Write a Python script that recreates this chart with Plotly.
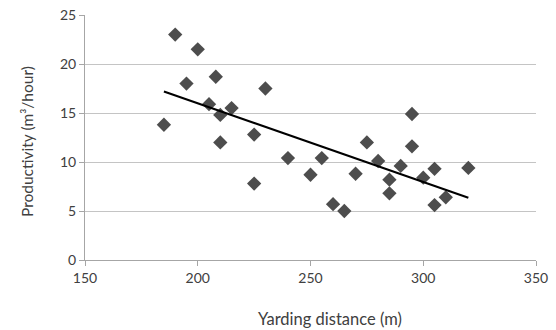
import numpy as np
import plotly.graph_objects as go

distance = [185, 190, 195, 200, 205, 208, 210, 210, 215, 225, 225, 230,
            240, 250, 255, 260, 265, 270, 275, 280, 285, 285, 290, 295,
            295, 300, 305, 305, 310, 320]
productivity = [13.8, 23.0, 18.0, 21.5, 15.9, 18.7, 14.8, 12.0, 15.5, 12.8, 7.8, 17.5,
                10.4, 8.7, 10.4, 5.7, 5.0, 8.8, 12.0, 10.1, 8.2, 6.8, 9.6, 14.9,
                11.6, 8.4, 9.3, 5.6, 6.4, 9.4]
x_title = "Yarding distance (m)"
y_title = "Productivity (m³/hour)"

x = np.array(distance, dtype=float)
y = np.array(productivity, dtype=float)
slope, intercept = np.polyfit(x, y, 1)
tx = [x.min(), x.max()]
ty = [slope * v + intercept for v in tx]

font = "Lato, 'Open Sans', sans-serif"
fig = go.Figure()
fig.add_trace(go.Scatter(x=distance, y=productivity, mode="markers",
                         marker=dict(symbol="diamond", size=11, color="#4d4d4d"),
                         showlegend=False))
fig.add_trace(go.Scatter(x=tx, y=ty, mode="lines",
                         line=dict(color="black", width=2), showlegend=False))

fig.update_layout(
    width=556, height=330,
    margin=dict(l=85, r=20, t=15, b=70, autoexpand=False),
    paper_bgcolor="white", plot_bgcolor="white",
    font=dict(family=font, size=14, color="#404040"),
    annotations=[
        dict(text=x_title, xref="paper", yref="paper", x=0.543, y=-0.241,
             xanchor="center", yanchor="middle", showarrow=False,
             font=dict(size=16.5, color="#404040")),
        dict(text=y_title, xref="paper", yref="paper", x=-0.1286, y=0.4816,
             xanchor="center", yanchor="middle", showarrow=False, textangle=-90,
             font=dict(size=15.5, color="#404040")),
    ],
)
fig.update_xaxes(range=[150, 350], dtick=50, showgrid=False, zeroline=False,
                 showline=True, linecolor="#a6a6a6", linewidth=1,
                 ticks="outside", ticklen=5, tickcolor="#a6a6a6", automargin=False,
                 ticklabeloverflow="allow")
fig.update_yaxes(range=[0, 25], dtick=5, showgrid=True, gridcolor="#c4c4c4",
                 zeroline=False, showline=True, linecolor="#a6a6a6", linewidth=1,
                 ticks="outside", ticklen=5, tickcolor="#a6a6a6", automargin=False,
                 ticklabeloverflow="allow")
fig.write_html("out.html", config={"displayModeBar": False},
               post_script="document.body.style.margin='0';document.body.style.overflow='hidden';")
